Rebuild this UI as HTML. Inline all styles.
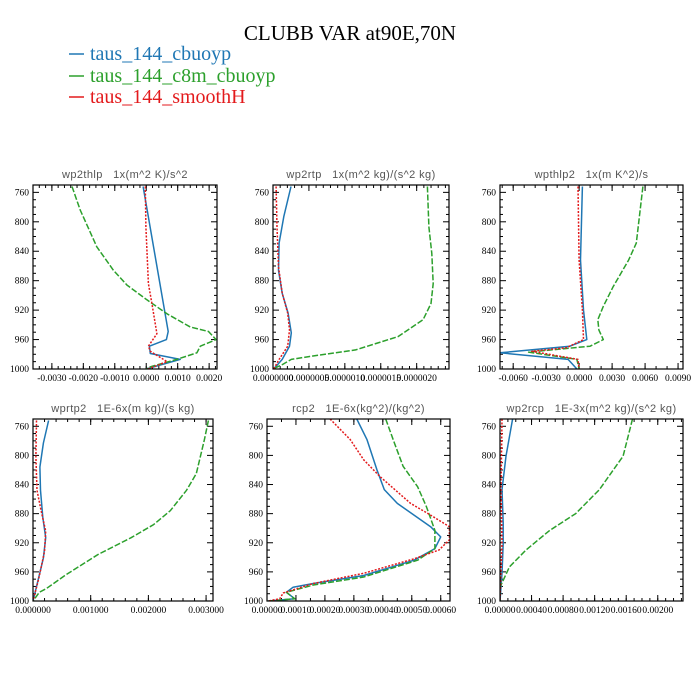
<!DOCTYPE html>
<html><head><meta charset="utf-8"><style>
body{margin:0;background:#fff;}
svg{display:block;}
.tl{font-family:"Liberation Sans",sans-serif;font-size:11px;fill:#555;white-space:pre;letter-spacing:0.4px;}
.tk{font-family:"Liberation Serif",serif;font-size:9.5px;fill:#000;}
</style></head><body>
<svg id="c" width="700" height="700" viewBox="0 0 700 700" xmlns="http://www.w3.org/2000/svg">
<text x="350" y="40" text-anchor="middle" font-family="Liberation Serif,serif" font-size="21">CLUBB VAR at90E,70N</text>
<g>
<line x1="69" y1="54" x2="84" y2="54" stroke="#1f77b4" stroke-width="1.5"/>
<text x="90" y="60" fill="#1f77b4" font-family="Liberation Serif,serif" font-size="20">taus_144_cbuoyp</text>
<line x1="69" y1="76" x2="84" y2="76" stroke="#2ca02c" stroke-width="1.5"/>
<text x="90" y="82" fill="#2ca02c" font-family="Liberation Serif,serif" font-size="20">taus_144_c8m_cbuoyp</text>
<line x1="69" y1="97" x2="84" y2="97" stroke="#e31a1c" stroke-width="1.5"/>
<text x="90" y="103" fill="#e31a1c" font-family="Liberation Serif,serif" font-size="20">taus_144_smoothH</text>
</g>
</svg>
<script>
const yTicks=[760,800,840,880,920,960,1000];
// Panel 1 wp2thlp
const p1Title="wp2thlp   1x(m^2 K)/s^2";
const p1Ticks=[-0.003,-0.002,-0.001,0,0.001,0.002];
const p1Labels=["-0.0030","-0.0020","-0.0010","0.0000","0.0010","0.0020"];
const p1BlueP=[752,949,960,969,979,987,1000];
const p1BlueV=[-0.0001,0.0007,0.00064,0.0001,0.00013,0.00108,0.0];
const p1RedP=[752,807,884,911,952,969,976,990,1000];
const p1RedV=[-0.00003,-0.00001,0.00007,0.00018,0.00034,0.00007,0.00013,0.00066,0.00005];
const p1GreenP=[752,784,834,866,886,906,925,943,949,960,969,978,987,997,1000];
const p1GreenV=[-0.00236,-0.0021,-0.00157,-0.00104,-0.00061,0.00002,0.00066,0.0014,0.00198,0.00222,0.00172,0.00161,0.00097,0.00013,0.0];
// Panel 2 wp2rtp
const p2Title="wp2rtp   1x(m^2 kg)/(s^2 kg)";
const p2Ticks=[0,5e-7,1e-6,1.5e-6,2e-6];
const p2Labels=["0.0000000","0.0000005","0.0000010","0.0000015","0.0000020"];
const p2BlueP=[752,793,829,866,897,924,951,969,987,1000];
const p2BlueV=[2.5e-7,1.5e-7,0.85e-7,0.77e-7,1.28e-7,2.1e-7,2.55e-7,2.3e-7,1.28e-7,0.1e-7];
const p2RedP=[752,807,861,897,924,947,969,987,1000];
const p2RedV=[0.43e-7,0.55e-7,0.77e-7,1.28e-7,2.04e-7,2.3e-7,2.04e-7,0.85e-7,0.1e-7];
const p2GreenP=[752,807,843,884,911,933,956,974,983,987,994,1000];
const p2GreenV=[21.5e-7,21.7e-7,22.1e-7,22.3e-7,22e-7,20.9e-7,17.4e-7,11.5e-7,5.1e-7,2.55e-7,1.3e-7,0];
// Panel 3 wpthlp2
const p3Title="wpthlp2   1x(m K^2)/s";
const p3Ticks=[-0.006,-0.003,0,0.003,0.006,0.009];
const p3Labels=["-0.0060","-0.0030","0.0000","0.0030","0.0060","0.0090"];
const p3BlueP=[752,852,920,960,969,978,987,1000];
const p3BlueV=[0.0003,0.00012,0.0004,0.0007,-0.00085,-0.0072,-0.001,-0.0002];
const p3RedP=[752,852,920,960,971,976,987,1000];
const p3RedV=[-0.0001,0.0,0.0003,0.0004,-0.00115,-0.0043,-0.0001,0.0];
const p3GreenP=[752,829,852,888,915,933,947,960,969,977,987,1000];
const p3GreenV=[0.0058,0.0052,0.0045,0.0031,0.0022,0.0017,0.0018,0.0022,0.001,-0.0046,-0.0002,0.0];
// Panel 4 wprtp2
const p4Title="wprtp2   1E-6x(m kg)/(s kg)";
const p4Ticks=[0,0.001,0.002,0.003];
const p4Labels=["0.000000","0.001000","0.002000","0.003000"];
const p4BlueP=[752,783,816,848,885,913,941,974,1000];
const p4BlueV=[0.00027,0.00018,0.00012,0.00013,0.00017,0.00022,0.00018,0.00008,0];
const p4RedP=[752,802,848,876,904,932,969,1000];
const p4RedV=[0.00006,0.00005,0.00007,0.00014,0.00022,0.0002,0.0001,0];
const p4GreenP=[752,779,825,848,876,895,913,936,964,983,988,1000];
const p4GreenV=[0.00304,0.00297,0.00283,0.00266,0.00238,0.00209,0.0017,0.00113,0.00057,0.00023,0.00011,0];
// Panel 5 rcp2
const p5Title="rcp2   1E-6x(kg^2)/(kg^2)";
const p5Ticks=[0,0.0001,0.0002,0.0003,0.0004,0.0005,0.0006];
const p5Labels=["0.00000","0.00010","0.00020","0.00030","0.00040","0.00050","0.00060"];
const p5BlueP=[750,778,820,847,866,898,912,928,944,965,976,981,988,997,1000];
const p5BlueV=[0.00031,0.000345,0.00038,0.000405,0.00045,0.000565,0.0006,0.00058,0.000508,0.000334,0.00016,0.00009,0.000067,0.000096,0.000004];
const p5RedP=[750,778,806,829,866,882,898,916,930,942,962,976,989,997,1000];
const p5RedV=[0.000218,0.000287,0.000334,0.00039,0.000496,0.000565,0.00063,0.00063,0.000594,0.000508,0.000334,0.00016,0.000056,0.000044,0.000004];
const p5GreenP=[750,783,815,843,870,903,928,944,967,978,988,997,1000];
const p5GreenV=[0.00041,0.00044,0.00047,0.00052,0.00055,0.00058,0.00058,0.00052,0.000334,0.00016,0.000067,0.000096,0.000004];
// Panel 6 wp2rcp
const p6Title="wp2rcp   1E-3x(m^2 kg)/(s^2 kg)";
const p6Ticks=[0,0.0004,0.0008,0.0012,0.0016,0.002];
const p6Labels=["0.00000","0.00040","0.00080","0.00120","0.00160","0.00200"];
const p6BlueP=[750,801,847,893,921,962,1000];
const p6BlueV=[0.00016,0.000076,0.000025,0.00004,0.00004,0.000025,0];
const p6RedP=[750,847,921,1000];
const p6RedV=[0.000025,0.000013,0.000025,0];
const p6GreenP=[750,801,824,847,880,903,930,953,981,1000];
const p6GreenV=[0.00168,0.00156,0.00141,0.00126,0.00096,0.00063,0.00033,0.00012,0,0];

const NS="http://www.w3.org/2000/svg";
const svg=document.getElementById('c');
function mk(tag,attrs,parent){const e=document.createElementNS(NS,tag);for(const k in attrs)e.setAttribute(k,attrs[k]);parent.appendChild(e);return e;}

const panels=[
 {id:'wp2thlp',x0:33,x1:217,y0:185,y1:369,xmin:-0.0036,xmax:0.00225,t:p1Title,ticks:p1Ticks,labels:p1Labels,minor:4,s:[[p1BlueP,p1BlueV],[p1GreenP,p1GreenV],[p1RedP,p1RedV]]},
 {id:'wp2rtp',x0:273,x1:449,y0:185,y1:369,xmin:0,xmax:2.45e-6,t:p2Title,ticks:p2Ticks,labels:p2Labels,minor:4,s:[[p2BlueP,p2BlueV],[p2GreenP,p2GreenV],[p2RedP,p2RedV]]},
 {id:'wpthlp2',x0:500,x1:683,y0:185,y1:369,xmin:-0.0072,xmax:0.00945,t:p3Title,ticks:p3Ticks,labels:p3Labels,minor:2,s:[[p3BlueP,p3BlueV],[p3GreenP,p3GreenV],[p3RedP,p3RedV]]},
 {id:'wprtp2',x0:33,x1:213,y0:419,y1:601,xmin:0,xmax:0.00312,t:p4Title,ticks:p4Ticks,labels:p4Labels,minor:4,s:[[p4BlueP,p4BlueV],[p4GreenP,p4GreenV],[p4RedP,p4RedV]]},
 {id:'rcp2',x0:267,x1:450,y0:419,y1:601,xmin:0,xmax:0.000632,t:p5Title,ticks:p5Ticks,labels:p5Labels,minor:1,s:[[p5BlueP,p5BlueV],[p5GreenP,p5GreenV],[p5RedP,p5RedV]]},
 {id:'wp2rcp',x0:500,x1:683,y0:419,y1:601,xmin:0,xmax:0.00232,t:p6Title,ticks:p6Ticks,labels:p6Labels,minor:3,s:[[p6BlueP,p6BlueV],[p6GreenP,p6GreenV],[p6RedP,p6RedV]]}
];
const styles=[
 {c:'#1f77b4',d:'',n:'cbuoyp'},
 {c:'#2ca02c',d:'6,2',n:'c8m-cbuoyp'},
 {c:'#e31a1c',d:'2,1.5',n:'smoothH'}
];
const YMIN=750,YMAX=1000;
panels.forEach(p=>{
 const g=mk('g',{},svg);
 
 
 const sx=v=>p.x0+(v-p.xmin)/(p.xmax-p.xmin)*(p.x1-p.x0);
 const sy=v=>p.y0+(v-YMIN)/(YMAX-YMIN)*(p.y1-p.y0);
 const t=mk('text',{x:(p.x0+p.x1)/2,y:p.y0-7,'text-anchor':'middle',class:'tl'},g);
 t.textContent=p.t;
 
 
 const cp=mk('clipPath',{id:'cl-'+p.id},g);
 mk('rect',{x:p.x0,y:p.y0,width:p.x1-p.x0,height:p.y1-p.y0},cp);
 for(let v=760;v<=1000;v+=10){
  const y=sy(v);const L=(v%40===0)?6:3;
  mk('line',{x1:p.x0,y1:y,x2:p.x0+L,y2:y,stroke:'#000','stroke-width':1},g);
  mk('line',{x1:p.x1,y1:y,x2:p.x1-L,y2:y,stroke:'#000','stroke-width':1},g);
 }
 yTicks.forEach(v=>{
  const l=mk('text',{x:p.x0-4,y:sy(v)+3,'text-anchor':'end',class:'tk'},g);
  l.textContent=String(v);
  
  
 });
 const step=p.ticks[1]-p.ticks[0];
 const ms=step/(p.minor+1);
 for(let v=p.ticks[0]-step;v<=p.xmax+1e-12;v+=ms){
  if(v<p.xmin-1e-12)continue;
  const x=sx(v);
  mk('line',{x1:x,y1:p.y1,x2:x,y2:p.y1-3,stroke:'#000','stroke-width':1},g);
  mk('line',{x1:x,y1:p.y0,x2:x,y2:p.y0+3,stroke:'#000','stroke-width':1},g);
 }
 p.ticks.forEach((v,i)=>{
  const x=sx(v);
  mk('line',{x1:x,y1:p.y1,x2:x,y2:p.y1-6,stroke:'#000','stroke-width':1},g);
  mk('line',{x1:x,y1:p.y0,x2:x,y2:p.y0+6,stroke:'#000','stroke-width':1},g);
  const l=mk('text',{x:x,y:p.y1+12,'text-anchor':'middle',class:'tk'},g);
  l.textContent=p.labels[i];
  
  
 });
 const sg=mk('g',{'clip-path':'url(#cl-'+p.id+')'},g);
 p.s.forEach((s,i)=>{
  const st=styles[i];
  const pts=s[0].map((pp,j)=>sx(s[1][j]).toFixed(1)+','+sy(pp).toFixed(1)).join(' ');
  const pl=mk('polyline',{points:pts,fill:'none',stroke:st.c,'stroke-width':1.5,'stroke-dasharray':st.d,'stroke-linejoin':'round'},sg);
  
  
 });
 const fr=mk('rect',{x:p.x0,y:p.y0,width:p.x1-p.x0,height:p.y1-p.y0,fill:'none',stroke:'#000','stroke-width':1.2},g);
 
 
});
</script>
</body></html>
